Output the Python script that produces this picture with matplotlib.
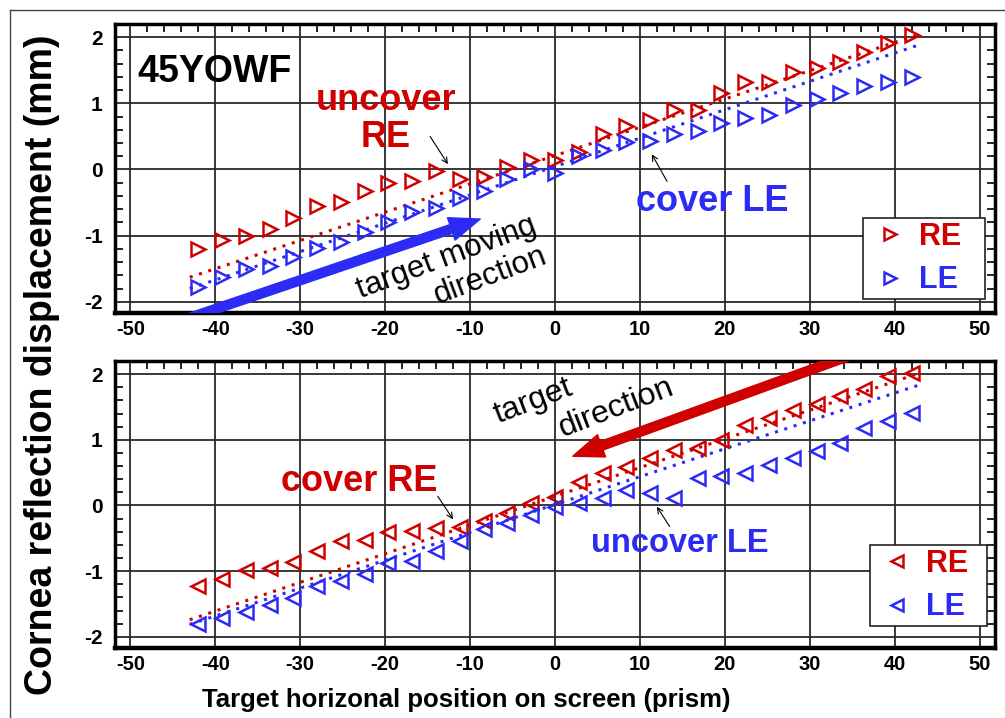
import matplotlib
matplotlib.use('Agg')
import matplotlib.pyplot as plt
from matplotlib import font_manager
from matplotlib.ticker import MultipleLocator
from matplotlib.lines import Line2D


def pick_font(names, fallback):
    for name in names:
        try:
            font_manager.findfont(font_manager.FontProperties(family=name),
                                  fallback_to_default=False)
            return name
        except ValueError:
            pass
    return fallback


plt.rcParams['axes.unicode_minus'] = False

SANS = 'Liberation Sans'
NARROW = pick_font(['Liberation Sans Narrow'], SANS)
# without a narrow face the compressed labels are matched by width
XT_SIZE = 16.5 if NARROW != SANS else 14.5
XL_SIZE = 22 if NARROW != SANS else 18.5

RED = '#d00000'
BLUE = '#2b2bf5'

# target positions (prism)
x_prism = [-42, -39.2, -36.4, -33.6, -30.8, -28, -25.2, -22.4, -19.6, -16.8, -14,
           -11.2, -8.4, -5.6, -2.8, 0, 2.8, 5.6, 8.4, 11.2, 14, 16.8, 19.6, 22.4,
           25.2, 28, 30.8, 33.6, 36.4, 39.2, 42]

# top panel: target moving right
top_re = [-1.21, -1.07, -1.00, -0.90, -0.74, -0.55, -0.49, -0.33, -0.20, -0.18,
          -0.03, -0.15, -0.12, 0.03, 0.15, 0.14, 0.27, 0.53, 0.65, 0.75,
          0.90, 0.90, 1.16, 1.33, 1.33, 1.47, 1.53, 1.63, 1.77, 1.91, 2.03]
top_le = [-1.78, -1.63, -1.51, -1.46, -1.33, -1.18, -1.10, -0.95, -0.80, -0.65,
          -0.58, -0.43, -0.33, -0.15, 0.00, -0.05, 0.20, 0.30, 0.41, 0.43,
          0.53, 0.58, 0.70, 0.78, 0.83, 0.98, 1.06, 1.15, 1.26, 1.33, 1.40]

# bottom panel: target moving left
bot_re = [-1.23, -1.12, -0.98, -0.95, -0.86, -0.70, -0.54, -0.52, -0.41, -0.39,
          -0.34, -0.32, -0.24, -0.12, 0.04, 0.13, 0.36, 0.50, 0.59, 0.73,
          0.85, 0.88, 1.00, 1.23, 1.33, 1.46, 1.54, 1.66, 1.78, 1.97, 2.02]
bot_le = [-1.81, -1.71, -1.62, -1.51, -1.41, -1.23, -1.15, -1.05, -0.87, -0.85,
          -0.70, -0.54, -0.36, -0.26, -0.15, -0.02, 0.04, 0.12, 0.24, 0.19,
          0.12, 0.42, 0.45, 0.49, 0.61, 0.73, 0.83, 0.95, 1.18, 1.28, 1.41]

# dotted reference lines (end points)
fit_x = [-43, 43]
top_re_fit = [-1.63, 2.05]
top_le_fit = [-1.80, 1.89]
bot_re_fit = [-1.74, 2.02]
bot_le_fit = [-1.81, 1.84]

x_ticks = [-50, -40, -30, -20, -10, 0, 10, 20, 30, 40, 50]
y_ticks = [-2, -1, 0, 1, 2]


def style_axes(ax):
    ax.set_xlim(-51.8, 51.8)
    ax.set_ylim(-2.17, 2.2)
    ax.set_xticks(x_ticks)
    ax.set_yticks(y_ticks)
    ax.xaxis.set_minor_locator(MultipleLocator(2))
    ax.yaxis.set_minor_locator(MultipleLocator(0.2))
    ax.grid(True, which='major', color='#2a2a2a', lw=1.3)
    ax.set_axisbelow(True)
    ax.tick_params(which='major', length=0)
    ax.tick_params(axis='x', which='major', pad=5)
    ax.tick_params(axis='y', which='major', pad=9)
    ax.tick_params(which='minor', direction='in', length=6, width=1.2,
                   top=True, bottom=False, left=True, right=True)
    for sp in ax.spines.values():
        sp.set_linewidth(2.5)
    ax.spines['bottom'].set_linewidth(3.2)
    for lab in ax.get_xticklabels():
        lab.set_fontfamily(NARROW)
        lab.set_fontweight('bold')
        lab.set_fontsize(XT_SIZE)
    for lab in ax.get_yticklabels():
        lab.set_fontfamily(SANS)
        lab.set_fontweight('bold')
        lab.set_fontsize(15)


def big_arrow(ax, tail, tip, color):
    ann = ax.annotate('', xy=tip, xytext=tail,
                      arrowprops=dict(facecolor=color, edgecolor=color, width=6.5,
                                      headwidth=17, headlength=22, shrink=0))
    ann.arrow_patch.set_clip_on(True)
    ann.arrow_patch.set_clip_path(ax.patch)


def thin_arrow(ax, tail, tip):
    ax.annotate('', xy=tip, xytext=tail,
                arrowprops=dict(arrowstyle='->', color='black', lw=0.8,
                                shrinkA=0, shrinkB=0, mutation_scale=10))


def add_legend(ax, marker, box):
    h_re = Line2D([], [], ls='none', marker=marker, ms=8, mfc='none', mec=RED, mew=1.8)
    h_le = Line2D([], [], ls='none', marker=marker, ms=8, mfc='none', mec=BLUE, mew=1.8)
    leg = ax.legend([h_re, h_le], ['RE', 'LE'], loc='lower left', mode='expand',
                    bbox_to_anchor=box, borderaxespad=0,
                    prop={'family': SANS, 'weight': 'bold', 'size': 22},
                    labelcolor=[RED, BLUE], fancybox=False, framealpha=1,
                    edgecolor='#222222', handlelength=1.5, handletextpad=0.2,
                    labelspacing=0.45, borderpad=0.12)
    leg.get_frame().set_linewidth(1.2)
    return leg


fig = plt.figure(figsize=(10.05, 7.18), dpi=100)
ax1 = fig.add_axes([0.1144, 0.5641, 0.8756, 0.4025])
ax2 = fig.add_axes([0.1144, 0.0975, 0.8756, 0.3997])

dots = (0, (1, 2.2))

# ---- top panel
ax1.plot(fit_x, top_re_fit, color=RED, lw=2.2, ls=dots)
ax1.plot(fit_x, top_le_fit, color=BLUE, lw=2.2, ls=dots)
ax1.plot(x_prism, top_re, ls='none', marker='>', ms=10, mfc='none', mec=RED, mew=1.8)
ax1.plot(x_prism, top_le, ls='none', marker='>', ms=10, mfc='none', mec=BLUE, mew=1.8)
style_axes(ax1)
add_legend(ax1, '>', (0.850, 0.0484, 0.1386, 0.3))

ax1.text(-40.1, 1.33, '45YOWF', family=SANS, weight='bold', fontsize=27,
         ha='center', va='baseline', color='black')
ax1.text(-19.9, 0.905, 'uncover', family=SANS, weight='bold', fontsize=26,
         ha='center', va='baseline', color=RED)
ax1.text(-19.9, 0.347, 'RE', family=SANS, weight='bold', fontsize=26,
         ha='center', va='baseline', color=RED)
ax1.text(18.5, -0.633, 'cover LE', family=SANS, weight='bold', fontsize=26,
         ha='center', va='baseline', color=BLUE)
ax1.text(-12.8, -1.33, 'target moving', family=SANS, fontsize=22.5, rotation=20.5,
         rotation_mode='anchor', ha='center', va='center', color='black')
ax1.text(-7.6, -1.60, 'direction', family=SANS, fontsize=22.5, rotation=20.5,
         rotation_mode='anchor', ha='center', va='center', color='black')
big_arrow(ax1, (-45, -2.33), (-8.8, -0.75), BLUE)
thin_arrow(ax1, (-14.7, 0.50), (-12.6, 0.08))
thin_arrow(ax1, (13.2, -0.18), (11.4, 0.23))

# ---- bottom panel
ax2.plot(fit_x, bot_re_fit, color=RED, lw=2.2, ls=dots)
ax2.plot(fit_x, bot_le_fit, color=BLUE, lw=2.2, ls=dots)
ax2.plot(x_prism, bot_re, ls='none', marker='<', ms=10, mfc='none', mec=RED, mew=1.8)
ax2.plot(x_prism, bot_le, ls='none', marker='<', ms=10, mfc='none', mec=BLUE, mew=1.8)
style_axes(ax2)
add_legend(ax2, '<', (0.858, 0.0767, 0.133, 0.3))

ax2.text(-23.1, 0.213, 'cover RE', family=SANS, weight='bold', fontsize=26,
         ha='center', va='baseline', color=RED)
ax2.text(14.7, -0.715, 'uncover LE', family=SANS, weight='bold', fontsize=23.5,
         ha='center', va='baseline', color=BLUE)
ax2.text(-2.5, 1.58, 'target', family=SANS, fontsize=23, rotation=21,
         rotation_mode='anchor', ha='center', va='center', color='black')
ax2.text(7.2, 1.48, 'direction', family=SANS, fontsize=23, rotation=21,
         rotation_mode='anchor', ha='center', va='center', color='black')
big_arrow(ax2, (40, 2.53), (2.1, 0.75), RED)
thin_arrow(ax2, (-13.8, 0.14), (-12.0, -0.21))
thin_arrow(ax2, (13.5, -0.32), (12.0, -0.02))

# ---- shared labels
fig.text(466 / 1005, 1 - 707 / 718, 'Target horizonal position on screen (prism)',
         family=NARROW, weight='bold', fontsize=XL_SIZE, ha='center', va='baseline')
fig.text(52 / 1005, 1 - 365 / 718, 'Cornea reflection displacement (mm)',
         family=SANS, weight='bold', fontsize=27, rotation=90,
         rotation_mode='anchor', ha='center', va='baseline')

# frame lines of the original screenshot
fig.add_artist(Line2D([10 / 1005, 1], [1 - 10 / 718, 1 - 10 / 718],
                      transform=fig.transFigure, color='#444444', lw=1))
fig.add_artist(Line2D([10 / 1005, 10 / 1005], [0, 1 - 10 / 718],
                      transform=fig.transFigure, color='#444444', lw=1))

fig.savefig('out.png', dpi=100)
